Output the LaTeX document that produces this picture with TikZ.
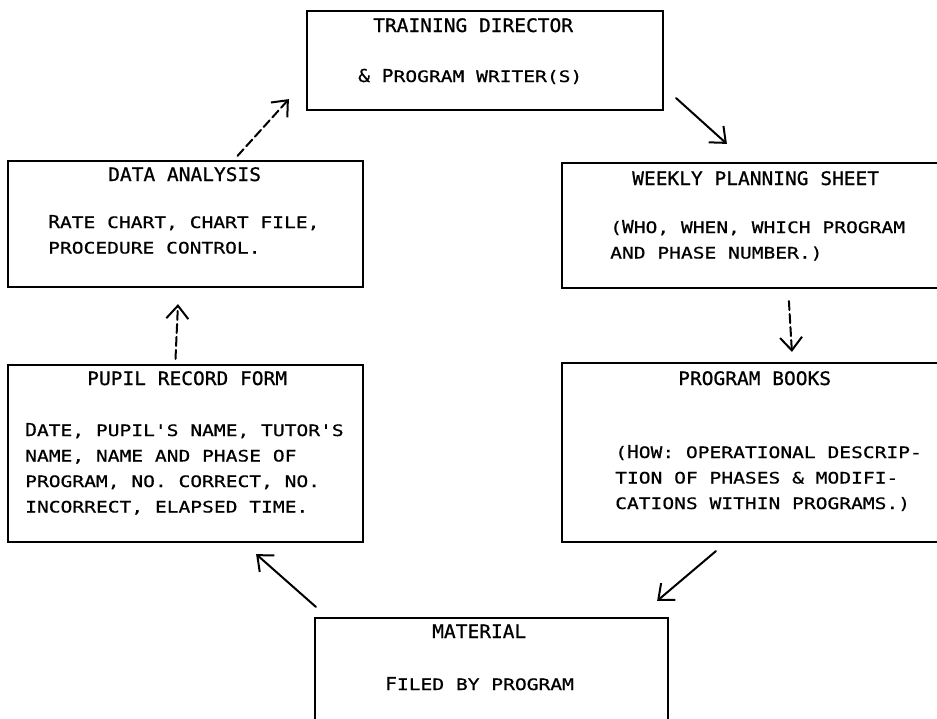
\documentclass[tikz,border=0pt]{standalone}
\usepackage{fontspec}
\usetikzlibrary{arrows.meta}
\newfontfamily\headfont{DejaVu Sans Mono}[FakeStretch=1.05,FakeBold=0.8]
\newfontfamily\scfont{DejaVu Sans Mono}[FakeStretch=1.24,FakeBold=0.6]
\newfontfamily\capfont{DejaVu Sans Mono}[FakeStretch=1.1,FakeBold=0.6]
\newcommand\Cap[1]{{\capfont\fontsize{17.8}{25.5}\selectfont #1}}
\tikzset{>={Straight Barb[length=13pt,width=22pt]}}
\tikzset{
  box/.style={draw,line width=2.2pt,inner sep=0pt},
  title/.style={anchor=base west,inner sep=0pt,font=\headfont\fontsize{18.6}{18.6}\selectfont},
  body/.style={anchor=base west,inner sep=0pt,align=left,font=\scfont\fontsize{15.8}{25.5}\selectfont},
  flow/.style={->,line width=2pt,line cap=round},
  broken/.style={dash pattern=on 9pt off 4pt}
}

\begin{document}
\begin{tikzpicture}[x=1pt,y=-1pt]
		\useasboundingbox[fill=white] (0,0) rectangle (937,718);

		% boxes
		\node[box,minimum width=356pt,minimum height=99pt]  (td) at (485,60.5)  {};
		\node[box,minimum width=355pt,minimum height=126pt] (da) at (185.5,224) {};
		\node[box,minimum width=418pt,minimum height=125pt] (wk) at (771,225.5) {};
		\node[box,minimum width=355pt,minimum height=177pt] (pu) at (185.5,453.5) {};
		\node[box,minimum width=418pt,minimum height=179pt] (pb) at (771,452.5) {};
		\node[box,minimum width=353pt,minimum height=142pt] (ma) at (491.5,689) {};

		% training director
		\node[title] (tdt) at (373,32) {TRAINING DIRECTOR};
		\node[body]  (tdb) at (358,82) {\Cap{\&} \Cap{P}ROGRAM WRITER(S)};

		% data analysis (anchor is on the last line)
		\node[title] (dat) at (108,181) {DATA ANALYSIS};
		\node[body]  (dab) at (48,253.5)  {\Cap{R}ATE CHART, CHART FILE,\\PROCEDURE CONTROL.};

		% weekly planning sheet
		\node[title] (wkt) at (632,185) {WEEKLY PLANNING SHEET};
		\node[body]  (wkb) at (610,258.5) {(\Cap{W}HO, WHEN, WHICH PROGRAM\\AND PHASE NUMBER.)};

		% pupil record form
		\node[title] (put) at (87,385) {PUPIL RECORD FORM};
		\node[body]  (pub) at (25,512.5) {\Cap{D}ATE, PUPIL'S NAME, TUTOR'S\\NAME, NAME AND PHASE OF\\PROGRAM, NO. CORRECT, NO.\\INCORRECT, ELAPSED TIME.};

		% program books
		\node[title] (pbt) at (678,385) {PROGRAM BOOKS};
		\node[body]  (pbb) at (615,509) {(\Cap{H}OW: OPERATIONAL DESCRIP-\\TION OF PHASES \& MODIFI-\\CATIONS WITHIN PROGRAMS.)};

		% material
		\node[title] (mat) at (432,638) {MATERIAL};
		\node[body]  (mab) at (385,690) {\Cap{F}ILED BY PROGRAM};

		% cycle of arrows
		\draw[flow,broken] ([xshift=52pt,yshift=4pt]da.north) -- ([xshift=-17pt,yshift=12pt]td.south west);
		\draw[flow] ([xshift=12pt,yshift=13pt]td.south east) -- ([xshift=166pt,yshift=18pt]wk.north west);
		\draw[flow,broken] ([xshift=228pt,yshift=-12pt]wk.south west) -- ([xshift=231pt,yshift=10pt]pb.north west);
		\draw[flow] ([xshift=155pt,yshift=-8pt]pb.south west) -- ([xshift=-12pt,yshift=16pt]ma.north east);
		\draw[flow] ([xshift=2pt,yshift=10pt]ma.north west) -- ([xshift=-108pt,yshift=-11pt]pu.south east);
		\draw[flow,broken] ([xshift=-10pt,yshift=5pt]pu.north) -- ([xshift=-7.5pt,yshift=-16pt]da.south);

\end{tikzpicture}
\end{document}
